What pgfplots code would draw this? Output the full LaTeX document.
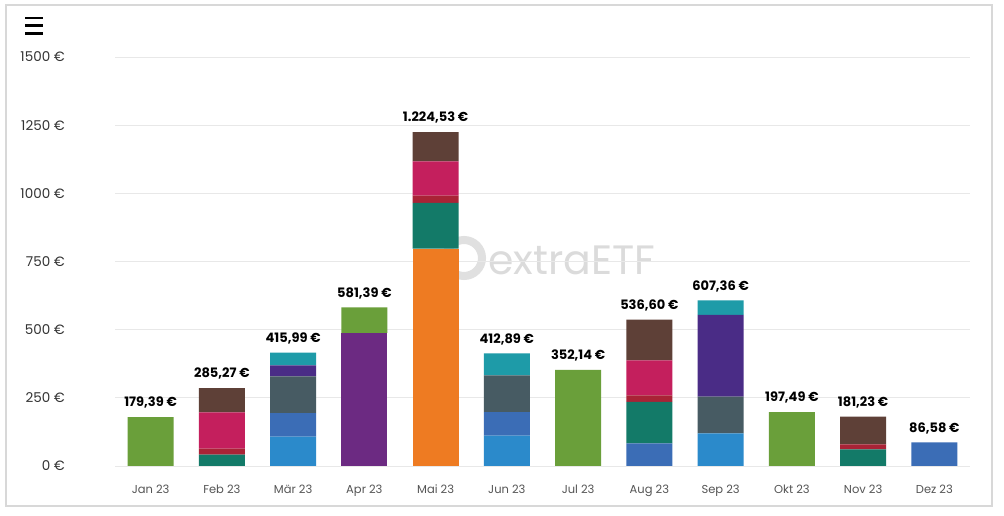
\documentclass[border=0pt]{standalone}
\usepackage{pgfplots}
\pgfplotsset{compat=1.18}
\usepackage{pgfplotstable}
\usepackage{fontspec}
\setmainfont{Poppins}
\definecolor{cOrange}{HTML}{EE7B22}
\definecolor{cPurple}{HTML}{6C2A82}
\definecolor{cLblue}{HTML}{2B8ACB}
\definecolor{cMblue}{HTML}{3B6DB6}
\definecolor{cSlate}{HTML}{475B63}
\definecolor{cDpurple}{HTML}{4A2C86}
\definecolor{cDteal}{HTML}{137A68}
\definecolor{cDred}{HTML}{A92336}
\definecolor{cMagenta}{HTML}{C41F5D}
\definecolor{cBrown}{HTML}{5E4037}
\definecolor{cTeal}{HTML}{1E9BA8}
\definecolor{cGreen}{HTML}{6A9F3A}
\definecolor{cGrid}{HTML}{E8E8E8}
\definecolor{cFrame}{HTML}{D8D8D8}
\definecolor{cTick}{HTML}{555555}
\pgfplotstableread{
x orange purple lblue mblue slate dpurple dteal dred magenta brown teal green
0 0 0 0 0 0 0 0 0 0 0 0 179.39
1 0 0 0 0 0 0 42 22 133 88.27 0 0
2 0 0 108 86 135 40 0 0 0 0 46.99 0
3 0 488 0 0 0 0 0 0 0 0 0 93.39
4 797 0 0 0 0 0 168 27 125 107.53 0 0
5 0 0 111 87 134 0 0 0 0 0 80.89 0
6 0 0 0 0 0 0 0 0 0 0 0 352.14
7 0 0 0 83 0 0 152 24 128 149.6 0 0
8 0 0 120 0 134 300 0 0 0 0 53.36 0
9 0 0 0 0 0 0 0 0 0 0 0 197.49
10 0 0 0 0 0 0 61 18 0 102.23 0 0
11 0 0 0 86.58 0 0 0 0 0 0 0 0
}\datatable
\begin{document}
\begin{tikzpicture}
\useasboundingbox (0pt,0pt) rectangle (1004pt,516pt);
\fill[white] (0pt,0pt) rectangle (1004pt,516pt);
\draw[cFrame, line width=2pt] (6pt,10pt) rectangle (992pt,511pt);
% menu icon
\draw[black, line width=2.4pt] (25pt,498pt) -- (43pt,498pt);
\draw[black, line width=2.4pt] (25pt,490.5pt) -- (43pt,490.5pt);
\draw[black, line width=2.4pt] (25pt,482.5pt) -- (43pt,482.5pt);
% watermark
\draw[black!12, line width=8pt] (464pt,258pt) circle (18pt);
\node[anchor=west, text=black!14, font=\fontsize{41}{43}\selectfont, inner sep=0pt] at (488pt,256pt) {extraETF};
\begin{axis}[
  at={(115pt,50pt)}, anchor=south west,
  scale only axis, width=855pt, height=409pt,
  xmin=-0.5, xmax=11.5, ymin=0, ymax=1500,
  ybar stacked, bar width=46pt,
  axis line style={draw=none},
  major tick style={draw=none},
  ymajorgrids, grid style={cGrid, line width=0.8pt},
  ytick={0,250,500,750,1000,1250,1500},
  yticklabels={0 €,250 €,500 €,750 €,1000 €,1250 €,1500 €},
  yticklabel style={font=\fontsize{13.5}{14}\selectfont, text=black!80, anchor=east, inner sep=0pt, xshift=-50pt},
  xtick={0,...,11},
  xticklabels={Jan 23,Feb 23,Mär 23,Apr 23,Mai 23,Jun 23,Jul 23,Aug 23,Sep 23,Okt 23,Nov 23,Dez 23},
  xticklabel style={font=\fontsize{11.5}{12}\selectfont, text=cTick, anchor=north, inner sep=0pt, yshift=-19pt},
  clip=false,
]
\addplot[fill=cOrange, draw=none] table[x=x,y=orange]{\datatable};
\addplot[fill=cPurple, draw=none] table[x=x,y=purple]{\datatable};
\addplot[fill=cLblue, draw=none] table[x=x,y=lblue]{\datatable};
\addplot[fill=cMblue, draw=none] table[x=x,y=mblue]{\datatable};
\addplot[fill=cSlate, draw=none] table[x=x,y=slate]{\datatable};
\addplot[fill=cDpurple, draw=none] table[x=x,y=dpurple]{\datatable};
\addplot[fill=cDteal, draw=none] table[x=x,y=dteal]{\datatable};
\addplot[fill=cDred, draw=none] table[x=x,y=dred]{\datatable};
\addplot[fill=cMagenta, draw=none] table[x=x,y=magenta]{\datatable};
\addplot[fill=cBrown, draw=none] table[x=x,y=brown]{\datatable};
\addplot[fill=cTeal, draw=none] table[x=x,y=teal]{\datatable};
\addplot[fill=cGreen, draw=none] table[x=x,y=green]{\datatable};
\end{axis}
\begin{axis}[
  at={(115pt,50pt)}, anchor=south west,
  scale only axis, width=855pt, height=409pt,
  xmin=-0.5, xmax=11.5, ymin=0, ymax=1500,
  axis lines=none, clip=false,
]
\addplot[only marks, mark=none,
  nodes near coords, point meta=explicit symbolic,
  every node near coord/.style={anchor=south, inner sep=0pt, yshift=8.5pt, font=\bfseries\fontsize{13}{14}\selectfont, text=black}]
  coordinates {
  (0,179.39) [179,39 €]
  (1,285.27) [285,27 €]
  (2,415.99) [415,99 €]
  (3,581.39) [581,39 €]
  (4,1224.53) [1.224,53 €]
  (5,412.89) [412,89 €]
  (6,352.14) [352,14 €]
  (7,536.60) [536,60 €]
  (8,607.36) [607,36 €]
  (9,197.49) [197,49 €]
  (10,181.23) [181,23 €]
  (11,86.58) [86,58 €]
  };
\end{axis}
\end{tikzpicture}
\end{document}
